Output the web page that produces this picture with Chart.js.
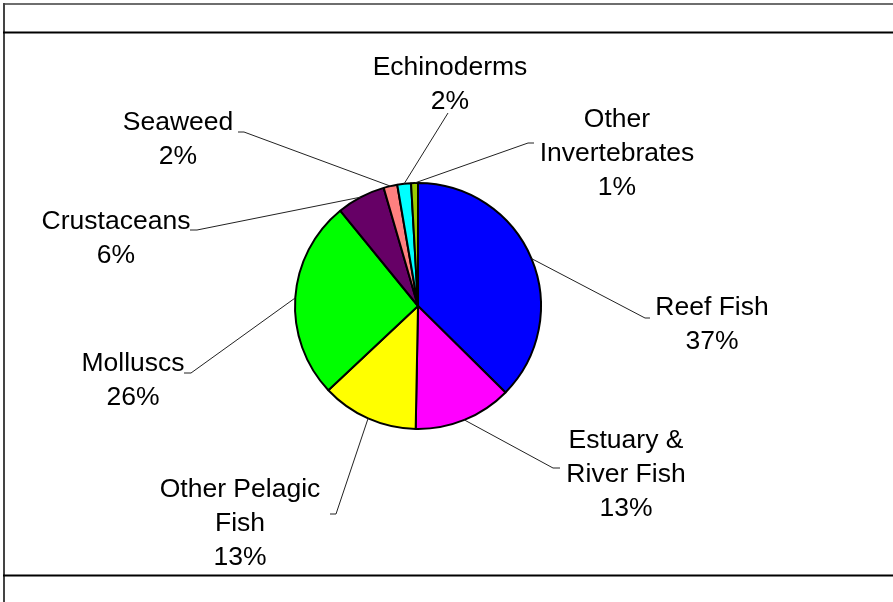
<!DOCTYPE html>
<html lang="en">
<head>
    <meta charset="UTF-8">
    <title>Catch Composition</title>
    <script src="https://cdn.jsdelivr.net/npm/chart.js"></script>
    <style>
        html, body {
            margin: 0;
            padding: 0;
            background: #ffffff;
        }
        #pieChart {
            display: block;
        }
    </style>
</head>
<body>
    <canvas id="pieChart" width="893" height="602"></canvas>

    <script>
        // data (percent of total)
        const categories = ['Reef Fish', 'Estuary & River Fish', 'Other Pelagic Fish', 'Molluscs',
                            'Crustaceans', 'Seaweed', 'Echinoderms', 'Other Invertebrates'];
        const shares = [37.4, 12.9, 12.7, 26.1, 6.4, 1.8, 1.8, 0.9];
        const labelLines = [['Reef Fish'], ['Estuary &', 'River Fish'], ['Other Pelagic', 'Fish'], ['Molluscs'],
                            ['Crustaceans'], ['Seaweed'], ['Echinoderms'], ['Other', 'Invertebrates']];
        const sliceColors = ['#0000ff', '#ff00ff', '#ffff00', '#00ff00',
                             '#660066', '#ff8080', '#00ffff', '#99cc00'];

        // where each label sits, relative to the pie centre (text first line, leader elbow, short tail)
        const labelPlacement = [
            { tx: 294, ty: 2, ex: 227, ey: 12, tail: 5 },
            { tx: 208, ty: 135, ex: 135, ey: 162, tail: 7 },
            { tx: -178, ty: 184, ex: -82, ey: 208, tail: -6 },
            { tx: -285, ty: 58, ex: -227, ey: 67, tail: -7 },
            { tx: -302, ty: -84, ex: -221, ey: -76, tail: -7 },
            { tx: -240, ty: -183, ex: -174, ey: -174, tail: -6 },
            { tx: 32, ty: -238, ex: 30, ey: -193, tail: 0 },
            { tx: 199, ty: -186, ex: 110, ey: -163, tail: 6 }
        ];

        const frame = {
            id: 'frame',
            beforeDraw(chart) {
                const ctx = chart.ctx;
                const w = chart.width;
                ctx.save();
                ctx.fillStyle = '#ffffff';
                ctx.fillRect(0, 0, w, chart.height);
                ctx.strokeStyle = '#6e6e6e';
                ctx.lineWidth = 2;
                ctx.beginPath();
                ctx.moveTo(3, 4);
                ctx.lineTo(w, 4);
                ctx.stroke();
                ctx.strokeStyle = '#444444';
                ctx.beginPath();
                ctx.moveTo(4, 3);
                ctx.lineTo(4, chart.height);
                ctx.stroke();
                ctx.strokeStyle = '#000000';
                ctx.beginPath();
                ctx.moveTo(3, 32.5);
                ctx.lineTo(w, 32.5);
                ctx.moveTo(3, 575.5);
                ctx.lineTo(w, 575.5);
                ctx.stroke();
                ctx.restore();
            }
        };

        const sliceLabels = {
            id: 'sliceLabels',
            afterDatasetsDraw(chart) {
                const ctx = chart.ctx;
                const arcs = chart.getDatasetMeta(0).data;
                const total = shares.reduce((a, b) => a + b, 0);
                ctx.save();
                arcs.forEach((arc, i) => {
                    const p = labelPlacement[i];
                    const mid = (arc.startAngle + arc.endAngle) / 2;
                    const r = arc.outerRadius;
                    const sx = arc.x + Math.cos(mid) * r;
                    const sy = arc.y + Math.sin(mid) * r;
                    const ex = arc.x + p.ex;
                    const ey = arc.y + p.ey;

                    ctx.strokeStyle = '#222222';
                    ctx.lineWidth = 1;
                    ctx.beginPath();
                    ctx.moveTo(sx, sy);
                    ctx.lineTo(ex, ey);
                    ctx.lineTo(ex + p.tail, ey);
                    ctx.stroke();

                    const lines = labelLines[i].concat([Math.round(shares[i] / total * 100) + '%']);
                    ctx.fillStyle = '#000000';
                    ctx.font = '26.5px "Liberation Sans", Arial, sans-serif';
                    ctx.textAlign = 'center';
                    ctx.textBaseline = 'middle';
                    lines.forEach((t, k) => {
                        ctx.fillText(t, arc.x + p.tx, arc.y + p.ty + k * 34);
                    });
                });
                ctx.restore();
            }
        };

        new Chart(document.getElementById('pieChart'), {
            type: 'pie',
            data: {
                labels: categories,
                datasets: [{
                    data: shares,
                    backgroundColor: sliceColors,
                    borderColor: '#000000',
                    borderWidth: 2
                }]
            },
            options: {
                responsive: false,
                animation: false,
                radius: 123,
                layout: {
                    padding: { left: 0, right: 57, top: 10, bottom: 0 }
                },
                plugins: {
                    legend: { display: false },
                    tooltip: { enabled: false }
                }
            },
            plugins: [frame, sliceLabels]
        });
    </script>
</body>
</html>
